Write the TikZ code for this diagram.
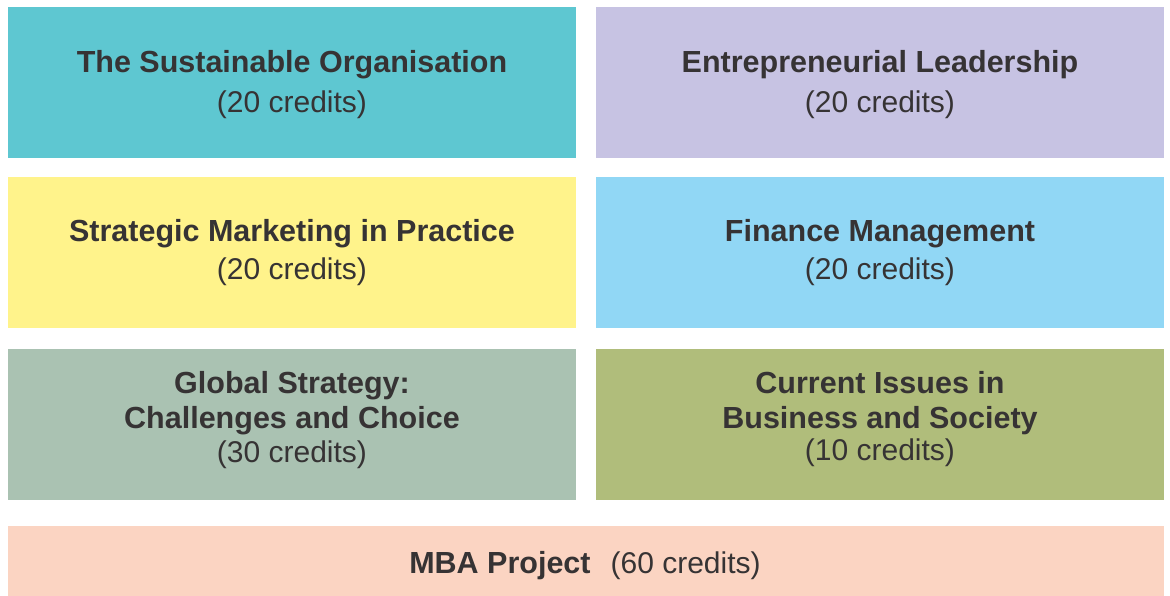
\documentclass[tikz,border=0pt]{standalone}
\usepackage{fontspec}
\setmainfont{Liberation Sans}
\definecolor{cteal}{HTML}{5EC7D1}
\definecolor{clav}{HTML}{C7C3E3}
\definecolor{cyel}{HTML}{FFF38B}
\definecolor{csky}{HTML}{91D7F5}
\definecolor{csage}{HTML}{AAC2B2}
\definecolor{colive}{HTML}{B0BD7B}
\definecolor{cpeach}{HTML}{FBD4C2}
\definecolor{ink}{HTML}{363334}
\begin{document}
\begin{tikzpicture}[x=1pt,y=-1pt,
  modbox/.style={rectangle, draw=none, inner sep=0pt, outer sep=0pt},
  ttl/.style={anchor=base, inner sep=0pt, text=ink, font=\fontsize{30.5}{36}\selectfont\bfseries},
  cred/.style={anchor=base, inner sep=0pt, text=ink, font=\fontsize{30}{36}\selectfont}]
\useasboundingbox (0,0) rectangle (1170,596);
% module boxes
\node[modbox, fill=cteal,  minimum width=568pt, minimum height=151pt] (m1) at (292,82.5) {};
\node[modbox, fill=clav,   minimum width=568pt, minimum height=151pt] (m2) at (880,82.5) {};
\node[modbox, fill=cyel,   minimum width=568pt, minimum height=151pt] (m3) at (292,252.5) {};
\node[modbox, fill=csky,   minimum width=568pt, minimum height=151pt] (m4) at (880,252.5) {};
\node[modbox, fill=csage,  minimum width=568pt, minimum height=151pt] (m5) at (292,424.5) {};
\node[modbox, fill=colive, minimum width=568pt, minimum height=151pt] (m6) at (880,424.5) {};
\node[modbox, fill=cpeach, minimum width=1156pt, minimum height=72pt] (m7) at (586,562) {};
% module titles and credits
\node[ttl]  (t1)  at (292,72.5)  {The Sustainable Organisation};
\node[cred] (c1)  at (292,112.5) {(20 credits)};
\node[ttl]  (t2)  at (880,72.5)  {Entrepreneurial Leadership};
\node[cred] (c2)  at (880,112.5) {(20 credits)};
\node[ttl]  (t3)  at (292,241.5) {Strategic Marketing in Practice};
\node[cred] (c3)  at (292,279.5) {(20 credits)};
\node[ttl]  (t4)  at (880,241.5) {Finance Management};
\node[cred] (c4)  at (880,279.5) {(20 credits)};
\node[ttl]  (t5a) at (292,393) {Global Strategy:};
\node[ttl]  (t5b) at (292,428) {Challenges and Choice};
\node[cred] (c5)  at (292,462) {(30 credits)};
\node[ttl]  (t6a) at (880,393) {Current Issues in};
\node[ttl]  (t6b) at (880,428) {Business and Society};
\node[cred] (c6)  at (880,460) {(10 credits)};
\node[ttl]  (t7)  at (585,573) {MBA Project\hspace{20pt}{\mdseries\fontsize{30}{36}\selectfont (60 credits)}};
\end{tikzpicture}
\end{document}
